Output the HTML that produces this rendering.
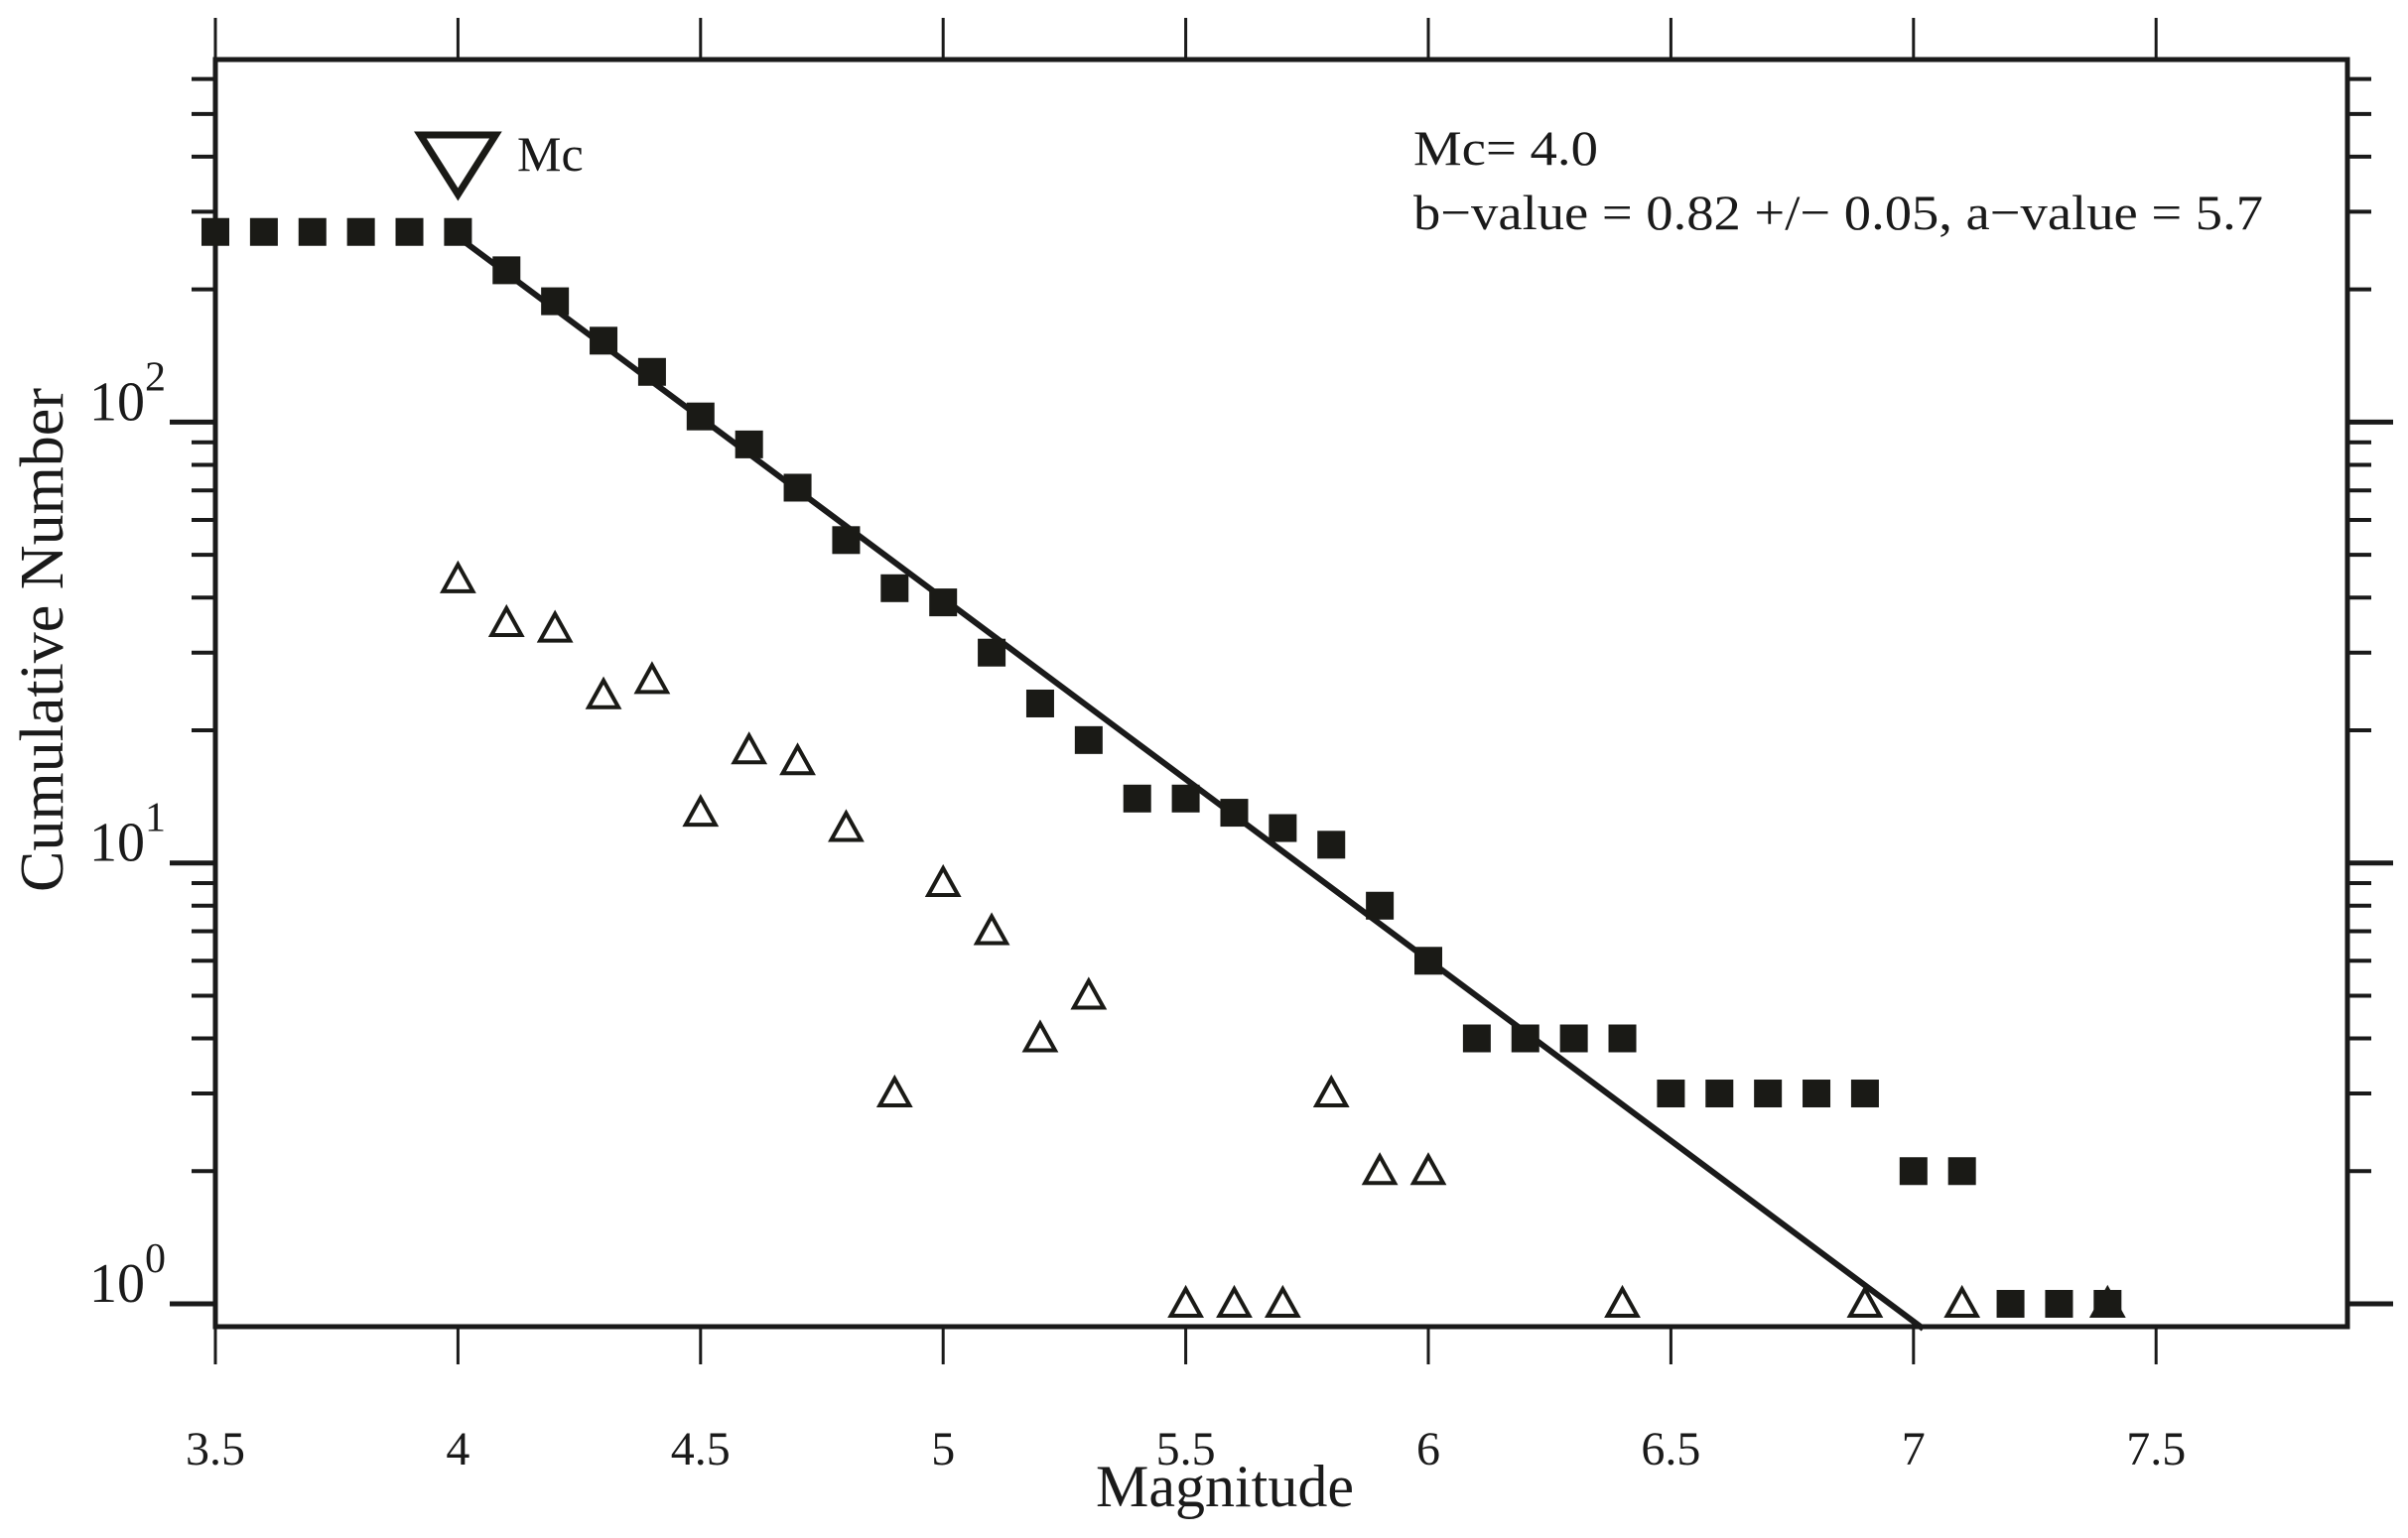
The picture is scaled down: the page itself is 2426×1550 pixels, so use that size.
<!DOCTYPE html>
<html><head><meta charset="utf-8">
<style>
html,body{margin:0;padding:0;background:#fff;}
svg{display:block;}
text{font-family:"Liberation Serif",serif;fill:#1a1a1a;}
</style></head>
<body>
<svg id="chart" width="2426" height="1550" viewBox="0 0 2426 1550" xmlns="http://www.w3.org/2000/svg">
<g id="axes"></g>
<g id="marks"></g>
<text x="1234" y="1518" font-size="60" text-anchor="middle">Magnitude</text>
<text x="63" y="645" font-size="62" text-anchor="middle" transform="rotate(-90 63 645)">Cumulative Number</text>
<text x="1424" y="166" font-size="50" textLength="186" lengthAdjust="spacingAndGlyphs">Mc= 4.0</text>
<text x="1424" y="231" font-size="50" textLength="856" lengthAdjust="spacingAndGlyphs">b−value = 0.82 +/− 0.05,  a−value = 5.7</text>
<text x="521" y="172" font-size="50">Mc</text>
</svg>
<script>
const magsCum = [3.5,3.6,3.7,3.8,3.9,4.0,4.1,4.2,4.3,4.4,4.5,4.6,4.7,4.8,4.9,5.0,5.1,5.2,5.3,5.4,5.5,5.6,5.7,5.8,5.9,6.0,6.1,6.2,6.3,6.4,6.5,6.6,6.7,6.8,6.9,7.0,7.1,7.2,7.3,7.4];
const cumCounts = [270,270,270,270,270,270,221,188,153,130,103,89,71,54,42,39,30,23,19,14,14,13,12,11,8,6,4,4,4,4,3,3,3,3,3,2,2,1,1,1];
const magsInc = [4.0,4.1,4.2,4.3,4.4,4.5,4.6,4.7,4.8,4.9,5.0,5.1,5.2,5.3,5.5,5.6,5.7,5.8,5.9,6.0,6.4,6.9,7.1,7.4];
const incCounts = [44,35,34,24,26,13,18,17,12,3,9,7,4,5,1,1,1,3,2,2,1,1,1,1];
const xTicks = [3.5,4,4.5,5,5.5,6,6.5,7,7.5];
const xTickLabels = ["3.5","4","4.5","5","5.5","6","6.5","7","7.5"];
const yMajors = [1,10,100];
const yExps = ["0","1","2"];
const aValue = 5.7, bValue = 0.82, mc = 4.0, fitEnd = 7.02;

const L=217,R=2365,T=60,B=1337;
const xs = m => L + (m-3.5)*488.8;
const ys = n => 1314 - Math.log10(n)*444.3;
const NS="http://www.w3.org/2000/svg";
function mk(tag, attrs, parent){const e=document.createElementNS(NS,tag);for(const k in attrs)e.setAttribute(k,attrs[k]);parent.appendChild(e);return e;}
const axes=document.getElementById('axes'), marks=document.getElementById('marks');

let frame=mk('rect',{x:L,y:T,width:R-L,height:B-T,fill:'none',stroke:'#1a1a1a','stroke-width':5},axes);



xTicks.forEach((v,i)=>{
  const x=xs(v);
  let t1=mk('line',{x1:x,y1:B,x2:x,y2:B+38,stroke:'#1a1a1a','stroke-width':3},axes);
  
  
  let t2=mk('line',{x1:x,y1:T,x2:x,y2:T-42,stroke:'#1a1a1a','stroke-width':3},axes);
  
  
  let lb=mk('text',{x:x,y:1476,'font-size':48,'text-anchor':'middle'},axes);
  lb.textContent=xTickLabels[i];
  
  
});

const yMin=Math.pow(10,(1314-B)/444.3), yMax=Math.pow(10,(1314-T)/444.3);
for(let d=0; d<3; d++){
  for(let k=1;k<10;k++){
    const v=k*Math.pow(10,d);
    if(v<yMin||v>yMax) continue;
    const y=ys(v), major=(k===1);
    let a=mk('line',{x1:L,y1:y,x2:L-(major?46:24),y2:y,stroke:'#1a1a1a','stroke-width':major?5:4},axes);
    
    
    let b=mk('line',{x1:R,y1:y,x2:R+(major?46:24),y2:y,stroke:'#1a1a1a','stroke-width':major?5:4},axes);
    
    
  }
}
yMajors.forEach((v,i)=>{
  const y=ys(v);
  let t=mk('text',{x:146,y:y-2,'font-size':56,'text-anchor':'end'},axes);
  t.textContent='10';
  
  
  let s=mk('text',{x:146,y:y-32,'font-size':42},axes);
  s.textContent=yExps[i];
  
  
});

let fit=mk('line',{x1:xs(mc),y1:ys(Math.pow(10,aValue-bValue*mc)),x2:xs(fitEnd),y2:ys(Math.pow(10,aValue-bValue*fitEnd)),stroke:'#1a1a1a','stroke-width':6},marks);



magsCum.forEach((m,i)=>{
  const x=xs(m), y=ys(cumCounts[i]);
  let r=mk('rect',{x:x-14,y:y-14,width:28,height:28,fill:'#1a1a16'},marks);
  
  
});
magsInc.forEach((m,i)=>{
  const x=xs(m), y=ys(incCounts[i]);
  let p=mk('polygon',{points:`${x},${y-15} ${x-15},${y+12} ${x+15},${y+12}`,fill:'none',stroke:'#1a1a16','stroke-width':4},marks);
  
  
});
const mx=xs(mc);
let mcm=mk('polygon',{points:`${mx-38},136 ${mx+38},136 ${mx},196`,fill:'none',stroke:'#1a1a16','stroke-width':7},marks);


</script>
</body></html>
